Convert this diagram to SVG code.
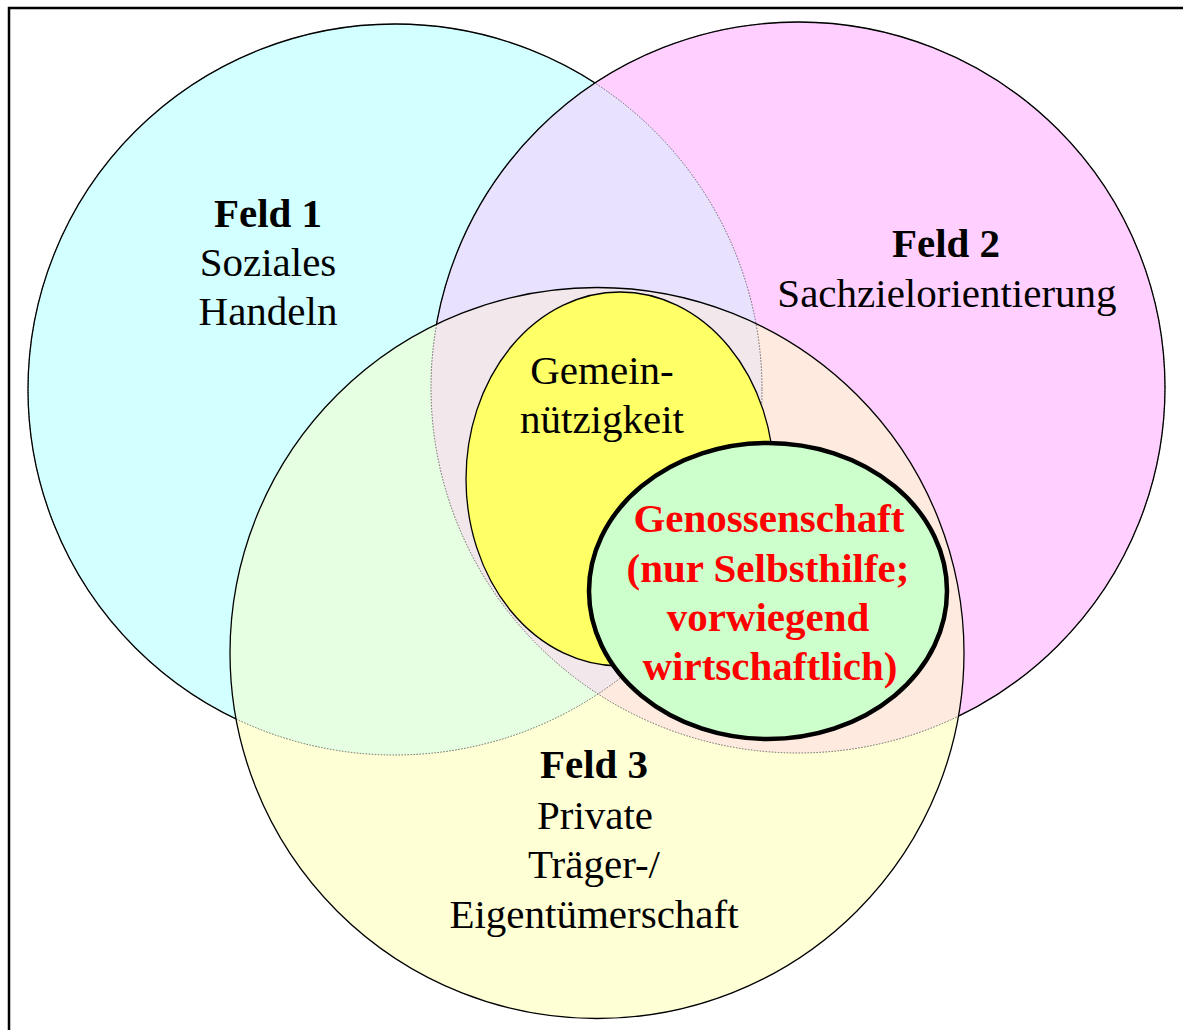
<svg xmlns="http://www.w3.org/2000/svg" width="1183" height="1030" viewBox="0 0 1183 1030">
<style>
  .solid { fill: none; stroke: #000; stroke-width: 1.3; }
  .faint { fill: none; stroke: #666; stroke-width: 1; stroke-dasharray: 1.5 1.5; }
  .t { font-family: "Liberation Serif", "Times New Roman", serif; font-size: 41px; text-anchor: middle; fill: #000; }
  .b { font-weight: bold; }
  .r { fill: #FF0000; font-weight: bold; }
</style>
<defs>
  <ellipse id="e1" cx="395" cy="389.5" rx="367" ry="365.5"/>
  <ellipse id="e2" cx="798" cy="387.5" rx="367" ry="365.5"/>
  <ellipse id="e3" cx="597" cy="653" rx="367" ry="365.5"/>
  <clipPath id="cp1"><use href="#e1"/></clipPath>
  <clipPath id="cp2"><use href="#e2"/></clipPath>
  <clipPath id="cp3"><use href="#e3"/></clipPath>
  <mask id="m1" maskUnits="userSpaceOnUse" x="0" y="0" width="1183" height="1030">
    <rect x="0" y="0" width="1183" height="1030" fill="#fff"/>
    <use href="#e2" fill="#000"/>
    <use href="#e3" fill="#000"/>
  </mask>
  <mask id="m2" maskUnits="userSpaceOnUse" x="0" y="0" width="1183" height="1030">
    <rect x="0" y="0" width="1183" height="1030" fill="#fff"/>
    <use href="#e3" fill="#000"/>
  </mask>
</defs>
<rect x="0" y="0" width="1183" height="1030" fill="#fff"/>
<rect x="9" y="8" width="1200" height="1050" fill="none" stroke="#000" stroke-width="2.5"/>
<g id="field1">
  <use href="#e1" fill="#D2FFFF"/>
  <text class="t b" x="268" y="227">Feld 1</text>
  <text class="t" x="268" y="276">Soziales</text>
  <text class="t" x="268" y="325">Handeln</text>
</g>
<g id="field2">
  <use href="#e2" fill="#FFD0FF"/>
  <text class="t b" x="946" y="257">Feld 2</text>
  <text class="t" x="947" y="307">Sachzielorientierung</text>
</g>
<g id="field3">
  <use href="#e3" fill="#FFFFD6"/>
  <text class="t b" x="594" y="778">Feld 3</text>
  <text class="t" x="595" y="829">Private</text>
  <text class="t" x="594" y="878">Träger-/</text>
  <text class="t" x="594" y="928">Eigentümerschaft</text>
</g>
<g id="overlaps">
  <g clip-path="url(#cp1)"><use href="#e2" fill="#E8E2FF"/><use href="#e3" fill="#E6FFE2"/></g>
  <g clip-path="url(#cp2)"><use href="#e3" fill="#FFEAE0"/></g>
  <g clip-path="url(#cp1)"><g clip-path="url(#cp2)"><use href="#e3" fill="#F2E8EC"/></g></g>
</g>
<g id="outlines">
  <use href="#e1" class="faint"/>
  <use href="#e2" class="faint"/>
  <use href="#e1" class="solid" mask="url(#m1)"/>
  <use href="#e2" class="solid" mask="url(#m2)"/>
  <use href="#e3" class="solid"/>
</g>
<g id="gemeinnuetzigkeit">
  <ellipse cx="620" cy="479" rx="154" ry="187" fill="#FFFF66" stroke="#000" stroke-width="1.3"/>
  <text class="t" x="602" y="384">Gemein-</text>
  <text class="t" x="602" y="433">nützigkeit</text>
</g>
<g id="genossenschaft">
  <ellipse cx="768" cy="591" rx="179" ry="148" fill="#CCFFCC" stroke="#000" stroke-width="4.5"/>
  <text class="t r" x="769" y="532">Genossenschaft</text>
  <text class="t r" x="768" y="582">(nur Selbsthilfe;</text>
  <text class="t r" x="768" y="631">vorwiegend</text>
  <text class="t r" x="770" y="680">wirtschaftlich)</text>
</g>
<g id="connectors"/>
</svg>
